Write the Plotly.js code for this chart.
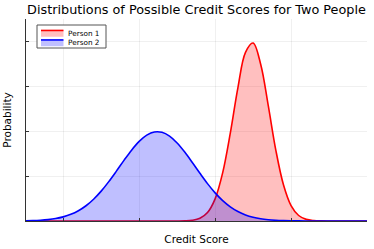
<!DOCTYPE html>
<html>
<head>
<meta charset="utf-8">
<script src="https://cdn.plot.ly/plotly-3.0.1.min.js"></script>
<style>html,body{margin:0;padding:0;background:#fff;}#chart{width:374px;height:249px;}</style>
</head>
<body>
<div id="chart"></div>
<script>
// Credit score grid (x values)
var creditScores = [350,360,370,380,390,400,410,420,430,440,450,460,470,480,490,500,510,520,530,540,550,560,570,580,590,600,610,620,630,640,650,660,670,680,690,700,710,720,730,740,750,760,770,780,790,800];
// Person 1 probability
var person1 = [0,0,0,0,0,0,0,0,0,0,0,0,0,0,0,0,0,0,0,0,0.000003,0.0000143,0.0000645,0.000241,0.000755,0.00197,0.0043,0.00781,0.01184,0.01499,0.01582,0.01394,0.01025,0.00628,0.00322,0.00137,0.000489,0.000145,0.000036,0.0000075,0.000001,0,0,0,0,0];
// Person 2 probability
var person2 = [0.0000186,0.0000366,0.0000692,0.000126,0.000219,0.000367,0.00059,0.000913,0.001356,0.001937,0.002656,0.0035,0.004431,0.005391,0.006301,0.007076,0.007635,0.007915,0.007883,0.007544,0.006936,0.006127,0.005201,0.004241,0.003323,0.002501,0.001809,0.001257,0.000839,0.000538,0.000332,0.000196,0.000112,0.0000611,0.0000321,0.0000162,0.0000079,0.0000037,0.000002,0.000001,0,0,0,0,0,0];
var seriesNames = ["Person 1","Person 2"];
var xTicks = [400,500,600,700,800];
var yTicks = [0,0.004,0.008,0.012,0.016];

var lineColors = ['rgb(255,0,0)', 'rgb(0,0,255)'];
var fillColors = ['rgba(255,0,0,0.25)', 'rgba(0,0,255,0.25)'];
var seriesData = [person1, person2];

var traces = seriesData.map(function (ys, i) {
  return {x: creditScores, y: ys, name: seriesNames[i], type: 'scatter', mode: 'lines',
    line: {color: lineColors[i], width: 1.6, shape: 'spline'}, fill: 'tozeroy', fillcolor: fillColors[i]};
});

// plot area in pixels: left 26, right 367, top 19, bottom 221
var PL = 26, PR = 367, PT = 19, PB = 221;
function px(x) { return (x - PL) / (PR - PL); }
function py(y) { return (PB - y) / (PB - PT); }

var legendFont = 7.3;
var lineStep = legendFont * 1.3;
var shapes = [
  {type: 'rect', xref: 'paper', yref: 'paper', x0: px(37), x1: px(106), y0: py(48), y1: py(25),
   line: {color: '#555', width: 1}, fillcolor: '#fff', layer: 'above'}
];
var textCenter = 38.2;
seriesNames.forEach(function (name, i) {
  var cy = textCenter + (i - 0.5) * lineStep;
  var top = cy - 3;
  shapes.push({type: 'rect', xref: 'paper', yref: 'paper', x0: px(41), x1: px(63.5), y0: py(top + 6.3), y1: py(top),
    line: {width: 0}, fillcolor: fillColors[i], layer: 'above'});
  shapes.push({type: 'line', xref: 'paper', yref: 'paper', x0: px(41), x1: px(63.5), y0: py(top), y1: py(top),
    line: {color: lineColors[i], width: 1.6}, layer: 'above'});
});
var annotations = [{xref: 'paper', yref: 'paper', x: px(66.5), y: py(textCenter), xanchor: 'left', yanchor: 'middle',
  align: 'left', borderpad: 0, text: seriesNames.join('<br>'), showarrow: false,
  font: {size: legendFont, family: 'DejaVu Sans', color: '#000'}}];

var layout = {
  width: 374, height: 249,
  margin: {l: PL, r: 374 - PR, t: PT, b: 249 - PB, pad: 0},
  paper_bgcolor: '#fff', plot_bgcolor: '#fff',
  font: {family: 'DejaVu Sans', color: '#000'},
  title: {text: 'Distributions of Possible Credit Scores for Two People', font: {size: 12.8, family: 'DejaVu Sans', color: '#000'},
          x: 0.5, xref: 'paper', y: 0.96, yref: 'container', yanchor: 'middle'},
  xaxis: {range: [351, 800], tickvals: xTicks, showticklabels: false, ticks: 'inside', ticklen: 3, tickcolor: '#333',
          showgrid: true, gridcolor: 'rgba(0,0,0,0.06)', gridwidth: 1, zeroline: false,
          showline: true, linecolor: '#333', linewidth: 1, mirror: false,
          title: {text: 'Credit Score', font: {size: 10.5, family: 'DejaVu Sans', color: '#000'}, standoff: 14}},
  yaxis: {range: [0, 0.01796], tickvals: yTicks, showticklabels: false, ticks: 'inside', ticklen: 3, tickcolor: '#333',
          showgrid: true, gridcolor: 'rgba(0,0,0,0.06)', gridwidth: 1, zeroline: false,
          showline: true, linecolor: '#333', linewidth: 1, mirror: false,
          title: {text: 'Probability', font: {size: 10.5, family: 'DejaVu Sans', color: '#000'}, standoff: 11}},
  showlegend: false,
  shapes: shapes,
  annotations: annotations
};

Plotly.newPlot('chart', traces, layout, {displayModeBar: false, staticPlot: true});
</script>
</body>
</html>
